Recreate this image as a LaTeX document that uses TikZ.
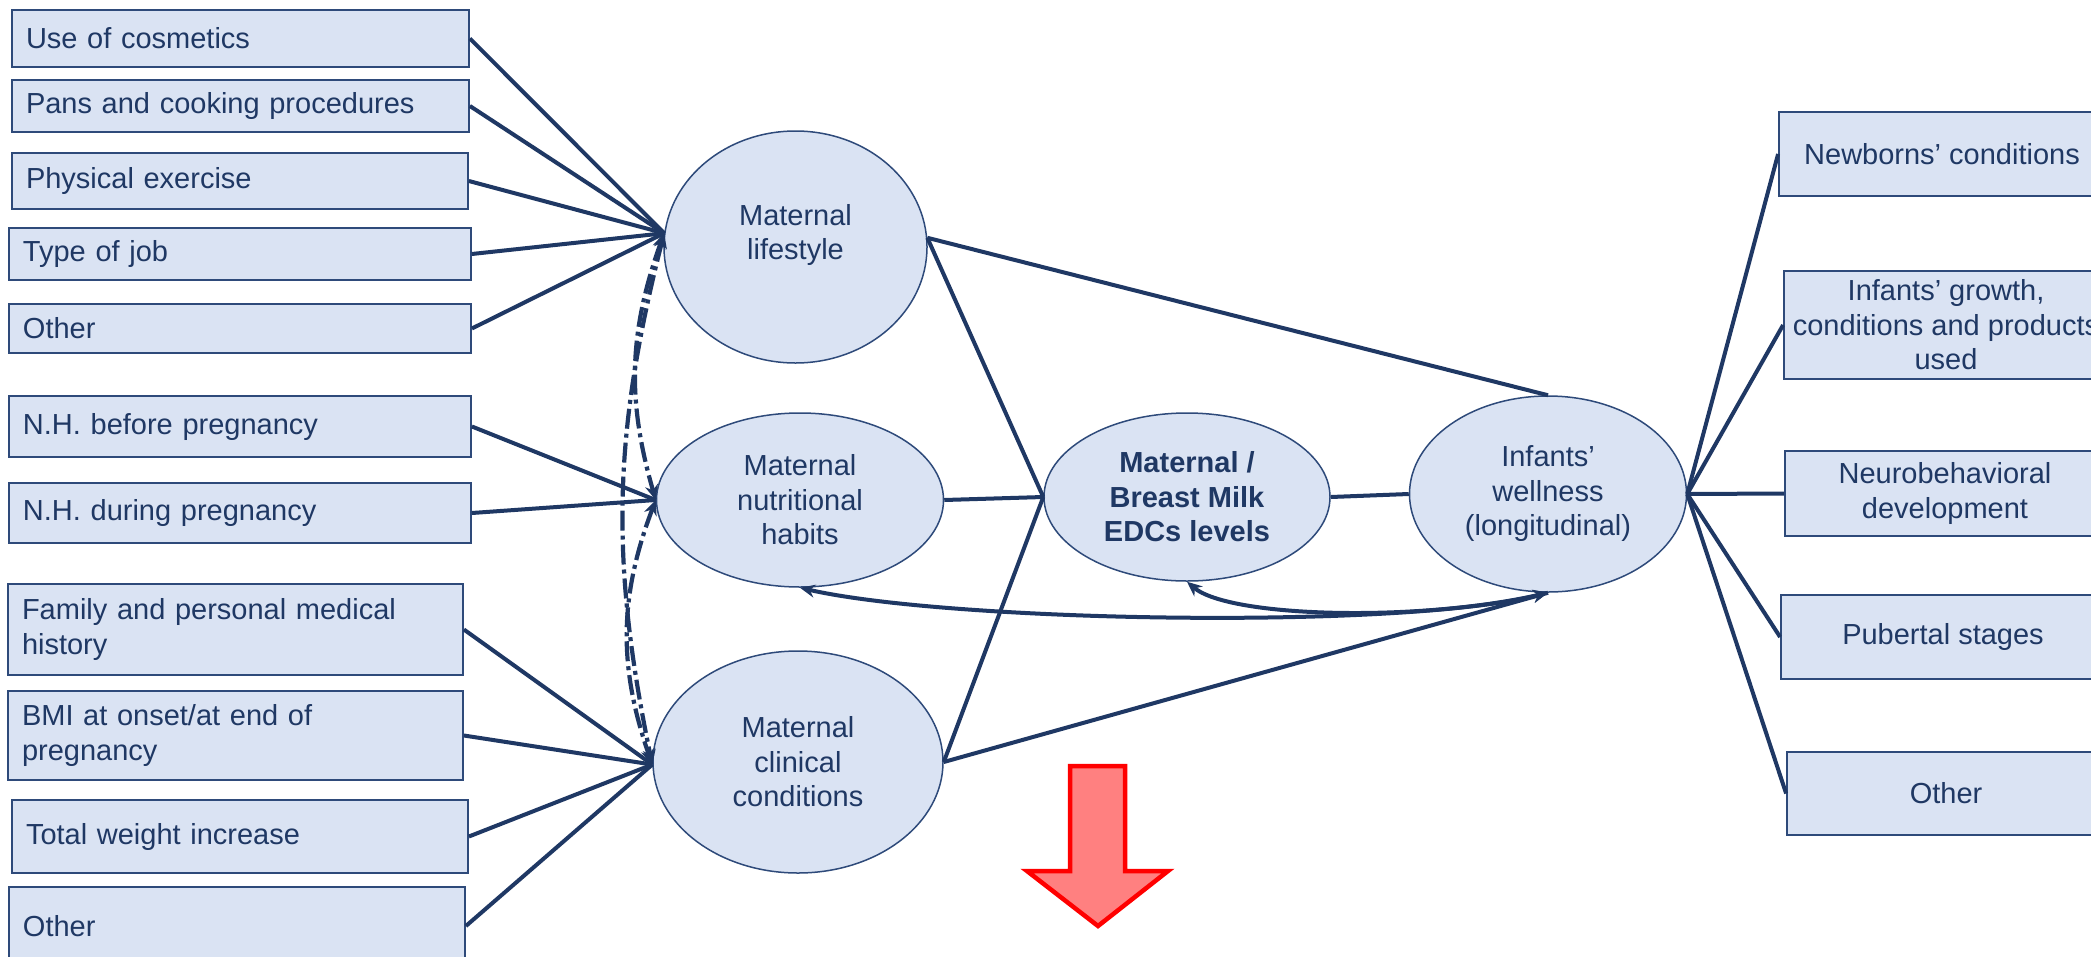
\documentclass[tikz,border=0pt]{standalone}
\usepackage{fontspec}
\setmainfont{Liberation Sans}
\usetikzlibrary{arrows.meta,shapes.geometric}
\definecolor{navy}{HTML}{1F3864}
\definecolor{boxfill}{HTML}{DAE3F3}
\definecolor{boxline}{HTML}{2E4A7A}
\definecolor{arrowfill}{HTML}{FF8080}
\begin{document}
\begin{tikzpicture}[x=1pt,y=-1pt,
  every node/.style={font=\fontsize{29}{34.5}\selectfont, text=navy},
  lbox/.style={rectangle, draw=boxline, line width=1.8pt, fill=boxfill, inner xsep=14pt, inner ysep=0pt, align=left},
  rbox/.style={rectangle, draw=boxline, line width=1.8pt, fill=boxfill, inner sep=0pt, align=center},
  oval/.style={ellipse, draw=boxline, line width=1.5pt, fill=boxfill, inner sep=0pt, align=center},
  link/.style={draw=navy, line width=4pt},
  tip/.tip={Stealth[length=15pt,width=13pt]},
  dd/.style={draw=navy, line width=4.2pt, dash pattern=on 20pt off 5pt on 4pt off 5pt, tip-tip}
]
\useasboundingbox (0,0) rectangle (2091,956);
\fill[white] (0,0) rectangle (2091,956);

% left boxes
\node[lbox, text width=429, minimum height=57] (b1) at (240.5,38.5) {Use of cosmetics};
\node[lbox, text width=429, minimum height=52] (b2) at (240.5,106) {Pans and cooking procedures};
\node[lbox, text width=428, minimum height=56] (b3) at (240,181) {Physical exercise};
\node[lbox, text width=434, minimum height=52] (b4) at (240,254) {Type of job};
\node[lbox, text width=434, minimum height=49] (b5) at (240,328.5) {Other};
\node[lbox, text width=434, minimum height=61] (b6) at (240,426.5) {N.H. before pregnancy};
\node[lbox, text width=434, minimum height=60] (b7) at (240,513) {N.H. during pregnancy};
\node[lbox, text width=427, minimum height=91] (b8) at (235.5,629.5) {Family and personal medical\\history};
\node[lbox, text width=427, minimum height=89] (b9) at (235.5,735.5) {BMI at onset/at end of\\pregnancy};
\node[lbox, text width=428, minimum height=73] (b10) at (240,836.5) {Total weight increase};
\node[lbox, text width=428, minimum height=78] (b11) at (237,926) {Other};

% ellipses
\node[oval, minimum width=263, minimum height=232,
  label={[align=center, yshift=12pt, font=\fontsize{29}{34.5}\selectfont, text=navy]center:Maternal\\lifestyle}] (L) at (795.5,247) {};
\node[oval, minimum width=287, minimum height=174] (N) at (800,500) {Maternal\\nutritional\\habits};
\node[oval, minimum width=290, minimum height=222] (C) at (798,762) {Maternal\\clinical\\conditions};
\node[oval, minimum width=286, minimum height=168, font=\fontsize{29}{34.5}\selectfont\bfseries] (E) at (1187,497) {Maternal /\\Breast Milk\\EDCs levels};
\node[oval, minimum width=277, minimum height=196] (I) at (1548,494) {Infants’\\wellness\\(longitudinal)};

% right boxes
\node[rbox, minimum width=326, minimum height=84] (r1) at (1942,154) {Newborns’ conditions};
\node[rbox, minimum width=324, minimum height=108] (r2) at (1946,325) {Infants’ growth,\\conditions and products\\used};
\node[rbox, minimum width=320, minimum height=85] (r3) at (1945,493.5) {Neurobehavioral\\development};
\node[rbox, minimum width=324, minimum height=84] (r4) at (1943,637) {Pubertal stages};
\node[rbox, minimum width=318, minimum height=83] (r5) at (1946,793.5) {Other};

% left connectors
\foreach \b in {b1,b2,b3,b4,b5} \draw[link] (\b.east) -- (L.174);
\foreach \b in {b6,b7} \draw[link] (\b.east) -- (N.west);
\foreach \b in {b8,b9,b10,b11} \draw[link] (\b.east) -- (C.181);

% dash-dot relations
\draw[dd] (L.174) to[bend right=18] (N.west);
\draw[dd] (L.174) to[bend right=13] (C.181);
\draw[dd] (N.west) to[bend right=20] (C.181);

% middle connectors
\draw[link] (L.4) -- (I.north);
\draw[link] (L.4) -- (E.west);
\draw[link] (N.east) -- (E.west);
\draw[link] (C.east) -- (E.west);
\draw[link] (C.east) -- (I.south);
\draw[link] (E.east) -- (I.west);

% curved arrows
\draw[link, tip-tip] (N.south) .. controls (950,622) and (1400,630) .. (I.south);
\draw[link, tip-tip] (E.south) .. controls (1230,618) and (1420,622) .. (I.south);

% right connectors
\foreach \r in {r1,r2,r3,r4,r5} \draw[link] (I.east) -- (\r.west);

% red arrow
\draw[draw=red, line width=4.5pt, fill=arrowfill, line join=miter]
  (1070,766) -- (1125,766) -- (1125,871) -- (1168,871) -- (1098,926) -- (1027,871) -- (1070,871) -- cycle;
\end{tikzpicture}
\end{document}
